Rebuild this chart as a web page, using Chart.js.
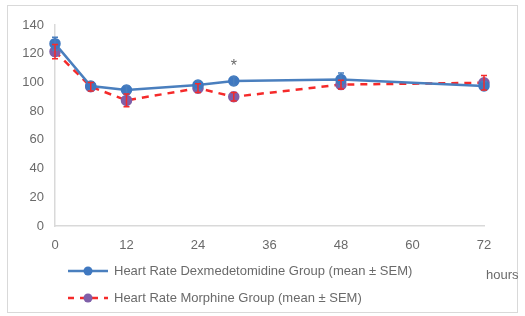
<!DOCTYPE html>
<html><head><meta charset="utf-8">
<script src="https://cdn.jsdelivr.net/npm/chart.js@4/dist/chart.umd.min.js"></script>
<style>html,body{margin:0;padding:0;background:#fff}#wrap{width:525px;height:316px;position:relative}</style>
</head><body><div id="wrap"><canvas id="c" width="525" height="316"></canvas></div>
<script>
const hours = [0, 6, 12, 24, 30, 48, 72];
const dexMean = [127, 97.5, 94.7, 98.2, 101, 102, 97.5];
const dexSem  = [4.5, 3, 3, 3, 3, 4.5, 3];
const morMean = [121.5, 97, 87.5, 96, 90, 98.5, 99.8];
const morSem  = [5, 3, 4.5, 3, 3, 3, 5];
const xTicks = [0, 12, 24, 36, 48, 60, 72];
const yTicks = [0, 20, 40, 60, 80, 100, 120, 140];
const seriesNames = ['Heart Rate Dexmedetomidine Group (mean \u00b1 SEM)', 'Heart Rate Morphine Group (mean \u00b1 SEM)'];
const sigHours = [30];
const xTitle = 'hours';

const dexColor = '#4a7fbe', dexMarker = '#3f78c0';
const morColor = '#f52a2a', morMarker = '#7f5fa8';
const textColor = '#6a6a6a';
const FONT = '"Liberation Sans", Arial, sans-serif';

const toXY = (m) => hours.map((h, i) => ({x: h, y: m[i]}));

const errorBars = {
  id: 'errorBars',
  afterDatasetsDraw(chart) {
    const {ctx, scales: {x, y}} = chart;
    const sets = [[dexMean, dexSem, dexColor], [morMean, morSem, morColor]];
    ctx.save();
    sets.forEach(([m, s, col]) => {
      ctx.strokeStyle = col; ctx.lineWidth = 1.5;
      hours.forEach((h, i) => {
        const px = x.getPixelForValue(h);
        const t = y.getPixelForValue(m[i] + s[i]);
        const b = y.getPixelForValue(m[i] - s[i]);
        ctx.beginPath();
        ctx.moveTo(px, t); ctx.lineTo(px, b);
        ctx.moveTo(px - 3, t); ctx.lineTo(px + 3, t);
        ctx.moveTo(px - 3, b); ctx.lineTo(px + 3, b);
        ctx.stroke();
      });
    });
    ctx.fillStyle = textColor;
    ctx.font = '16px ' + FONT;
    ctx.textAlign = 'center'; ctx.textBaseline = 'middle';
    sigHours.forEach(h => {
      const i = hours.indexOf(h);
      const top = Math.max(dexMean[i] + dexSem[i], morMean[i] + morSem[i]);
      ctx.fillText('*', x.getPixelForValue(h), y.getPixelForValue(top) - 10);
    });
    ctx.restore();
  }
};

const decor = {
  id: 'decor',
  beforeDraw(chart) {
    const {ctx} = chart;
    ctx.save();
    ctx.strokeStyle = '#d9d9d9'; ctx.lineWidth = 1;
    ctx.strokeRect(7.5, 5.5, 510, 307);
    ctx.restore();
  },
  afterDraw(chart) {
    const {ctx} = chart;
    ctx.save();
    const rows = [
      {y: 271, col: dexColor, mk: dexMarker, dash: [], name: seriesNames[0]},
      {y: 298, col: morColor, mk: morMarker, dash: [6, 6], name: seriesNames[1]}
    ];
    rows.forEach(r => {
      ctx.strokeStyle = r.col; ctx.lineWidth = 2.5; ctx.setLineDash(r.dash);
      ctx.beginPath(); ctx.moveTo(68, r.y); ctx.lineTo(108, r.y); ctx.stroke();
      ctx.setLineDash([]);
      ctx.fillStyle = r.mk;
      ctx.beginPath(); ctx.arc(88, r.y, 4.5, 0, Math.PI * 2); ctx.fill();
      ctx.fillStyle = textColor; ctx.font = '13px ' + FONT;
      ctx.textAlign = 'left'; ctx.textBaseline = 'middle';
      ctx.fillText(r.name, 114, r.y);
    });
    ctx.fillText(xTitle, 486, 275);
    ctx.restore();
  }
};

new Chart(document.getElementById('c'), {
  type: 'line',
  data: {
    datasets: [
      {label: seriesNames[0], data: toXY(dexMean), borderColor: dexColor, backgroundColor: dexMarker,
       pointBackgroundColor: dexMarker, pointBorderColor: dexMarker, pointRadius: 4.5, borderWidth: 2.5, tension: 0, clip: false},
      {label: seriesNames[1], data: toXY(morMean), borderColor: morColor, backgroundColor: morMarker,
       pointBackgroundColor: morMarker, pointBorderColor: morMarker, pointRadius: 4.5, borderWidth: 2.5,
       borderDash: [7, 6], tension: 0, clip: false}
    ]
  },
  options: {
    responsive: false, animation: false,
    layout: {padding: {left: 0, top: 25, right: 41, bottom: 60}},
    plugins: {legend: {display: false}, tooltip: {enabled: false}},
    scales: {
      x: {
        type: 'linear', min: 0, max: 72,
        afterBuildTicks: s => { s.ticks = xTicks.map(v => ({value: v})); },
        afterFit: s => { s.height = 30; },
        grid: {display: false, drawTicks: false},
        border: {display: true, color: '#d9d9d9', width: 1.5},
        ticks: {color: textColor, font: {family: FONT, size: 13}, padding: 12, maxRotation: 0}
      },
      y: {
        min: 0, max: 140,
        afterBuildTicks: s => { s.ticks = yTicks.map(v => ({value: v})); },
        afterFit: s => { s.width = 55; },
        grid: {display: false, drawTicks: false},
        border: {display: true, color: '#d9d9d9', width: 1.5},
        ticks: {color: textColor, font: {family: FONT, size: 13}, padding: 11}
      }
    }
  },
  plugins: [errorBars, decor]
});
</script></body></html>
